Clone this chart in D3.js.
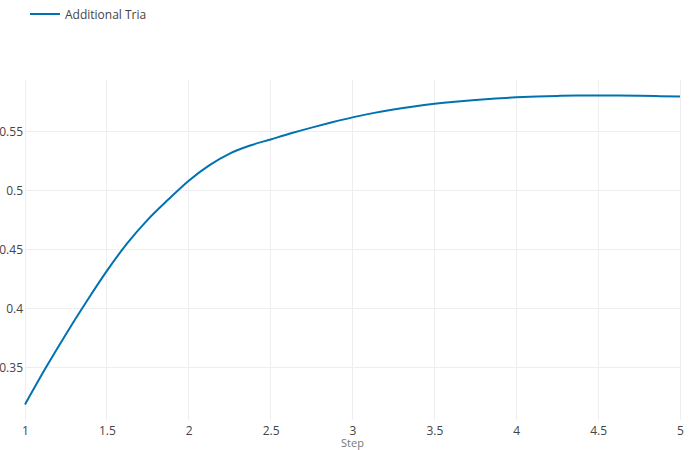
<!DOCTYPE html>
<html>
<head>
<meta charset="utf-8">
<script src="https://cdn.jsdelivr.net/npm/d3@7"></script>
<style>
  html, body { margin: 0; padding: 0; background: #fff; }
  svg { display: block; font-family: "Open Sans", "DejaVu Sans", sans-serif; }
</style>
</head>
<body>
<svg id="chart" width="700" height="450"></svg>
<script>
const seriesName = "Additional Tria";
const steps = [1.0, 1.125, 1.25, 1.375, 1.5, 1.625, 1.75, 1.875, 2.0, 2.125, 2.25, 2.375, 2.5, 2.625, 2.75, 2.875, 3.0, 3.125, 3.25, 3.375, 3.5, 3.625, 3.75, 3.875, 4.0, 4.125, 4.25, 4.375, 4.5, 4.625, 4.75, 4.875, 5.0];
const values = [0.3186, 0.3493, 0.3783, 0.4058, 0.4320, 0.4555, 0.4755, 0.4925, 0.5085, 0.5215, 0.5315, 0.5383, 0.5435, 0.5487, 0.5535, 0.5580, 0.5622, 0.5658, 0.5689, 0.5715, 0.5737, 0.5755, 0.5770, 0.5782, 0.5792, 0.5799, 0.5804, 0.5807, 0.5808, 0.5807, 0.5805, 0.5802, 0.5799];
const xTicks = [1, 1.5, 2, 2.5, 3, 3.5, 4, 4.5, 5];
const yTicks = [0.35, 0.4, 0.45, 0.5, 0.55];
const xTitle = "Step";

const svg = d3.select("#chart");
const m = { left: 25, right: 20, top: 80, bottom: 30 };
const W = 700, H = 450;

const x = d3.scaleLinear().domain(d3.extent(steps)).range([m.left, W - m.right]);
const [vmin, vmax] = d3.extent(values);
const pad = (vmax - vmin) * 0.05;
const y = d3.scaleLinear().domain([vmin - pad, vmax + pad]).range([H - m.bottom, m.top]);

// grid
svg.append("g").selectAll("line").data(xTicks).join("line")
  .attr("x1", d => x(d)).attr("x2", d => x(d))
  .attr("y1", m.top).attr("y2", H - m.bottom)
  .attr("stroke", "#eeeeee").attr("stroke-width", 1).attr("shape-rendering", "crispEdges");
svg.append("g").selectAll("line").data(yTicks).join("line")
  .attr("x1", m.left).attr("x2", W - m.right)
  .attr("y1", d => y(d)).attr("y2", d => y(d))
  .attr("stroke", "#eeeeee").attr("stroke-width", 1).attr("shape-rendering", "crispEdges");

// axes
const xAxis = svg.append("g").attr("transform", `translate(0,${H - m.bottom})`)
  .call(d3.axisBottom(x).tickValues(xTicks).tickSize(0).tickPadding(6).tickFormat(d3.format("~g")));
xAxis.select(".domain").remove();
xAxis.selectAll("text").attr("font-size", 12).attr("fill", "#444").attr("font-family", "'Open Sans', sans-serif");

const yAxis = svg.append("g").attr("transform", `translate(${m.left},0)`)
  .call(d3.axisLeft(y).tickValues(yTicks).tickSize(0).tickPadding(2).tickFormat(d3.format("~g")));
yAxis.select(".domain").remove();
yAxis.selectAll("text").attr("font-size", 12).attr("fill", "#444").attr("font-family", "'Open Sans', sans-serif");

// axis title
svg.append("text").attr("x", (x(1) + x(5)) / 2).attr("y", 447)
  .attr("text-anchor", "middle").attr("font-size", 11).attr("fill", "#777")
  .text(xTitle);

// line
const data = steps.map((s, i) => ({ s, v: values[i] }));
svg.append("path").datum(data)
  .attr("fill", "none").attr("stroke", "#0072B2").attr("stroke-width", 2)
  .attr("d", d3.line().x(d => x(d.s)).y(d => y(d.v)).curve(d3.curveMonotoneX));

// legend
const lg = svg.append("g").attr("transform", "translate(30,14)");
lg.append("line").attr("x1", 0).attr("x2", 30).attr("y1", 0).attr("y2", 0)
  .attr("stroke", "#0072B2").attr("stroke-width", 2);
lg.append("text").attr("x", 35).attr("y", 4.5).attr("font-size", 12).attr("fill", "#444")
  .text(seriesName);
</script>
</body>
</html>
